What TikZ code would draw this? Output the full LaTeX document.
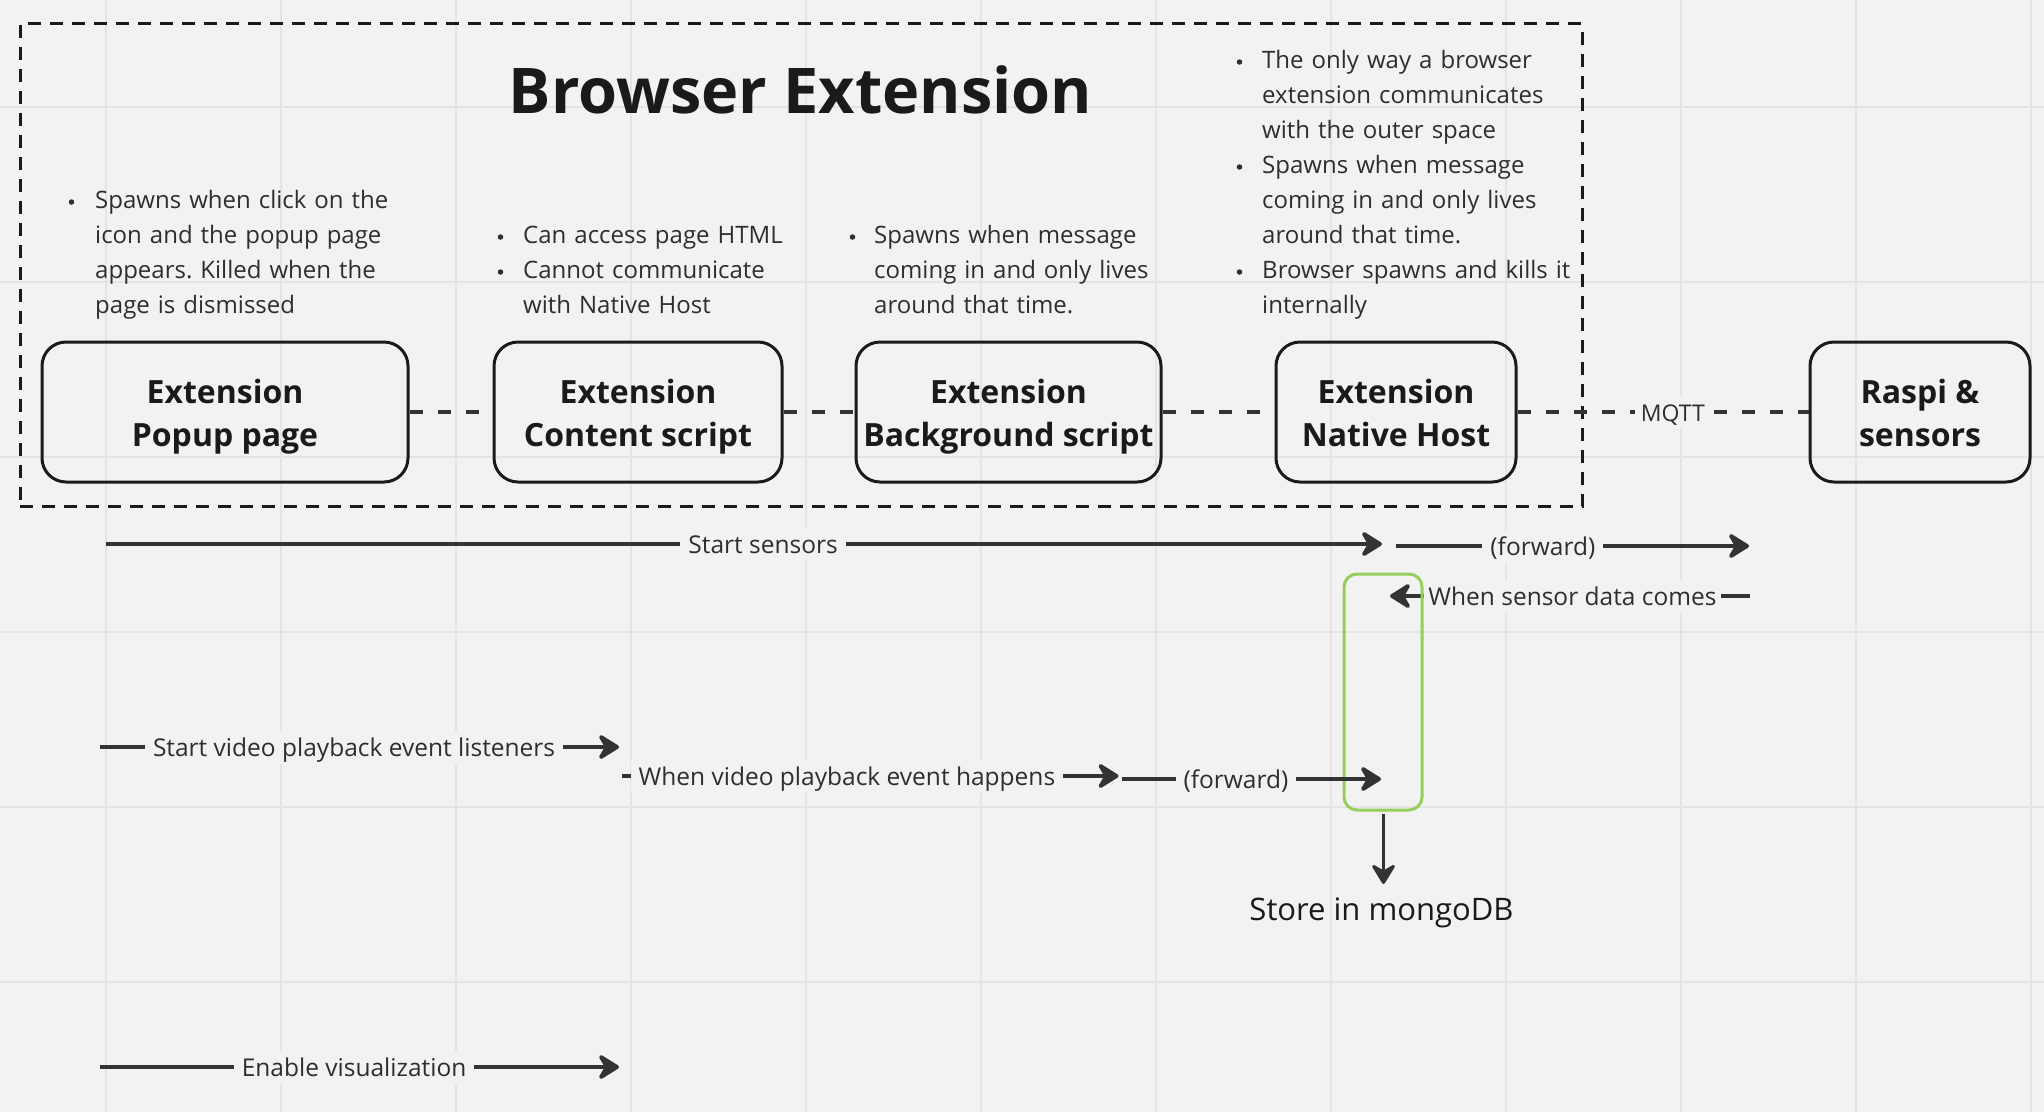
\documentclass[tikz,border=0pt]{standalone}
\usepackage{fontspec}
\setmainfont{Open Sans}
\usetikzlibrary{arrows.meta}
\frenchspacing
\definecolor{bg}{HTML}{F2F2F2}
\definecolor{gridc}{HTML}{E4E4E4}
\definecolor{ink}{HTML}{1A1A1A}
\definecolor{txt}{HTML}{2E2E2E}
\definecolor{lnc}{HTML}{333333}
\definecolor{grn}{HTML}{94CF5C}
\newcommand{\topline}{\rule{0pt}{38pt}}
\tikzset{
  comp/.style={draw=ink, line width=3pt, rounded corners=24pt, minimum height=140pt, align=center, inner sep=0pt,
    text=ink, font=\fontsize{32}{43}\selectfont\bfseries},
  dashlink/.style={draw=lnc, line width=3.4pt, dash pattern=on 13pt off 15pt},
  note/.style={anchor=base west, inner sep=0pt, text width=360pt, align=left, text=txt, font=\fontsize{24}{35}\selectfont},
  bul/.style={circle, fill=txt, inner sep=0pt, minimum size=5.5pt},
  flow/.style={draw=lnc, line width=3.8pt, -{Stealth[length=25pt,width=31pt,inset=9pt,round]}},
  lab/.style={fill=bg, inner xsep=8pt, inner ysep=2pt, text height=24pt, text depth=5pt, text=txt, font=\fontsize{24.5}{30}\selectfont},
}
\begin{document}
\begin{tikzpicture}[x=1pt,y=-1pt]
\useasboundingbox (0,0) rectangle (2044,1112);
\fill[bg] (0,0) rectangle (2044,1112);
% grid
\foreach \gx in {106,281,...,2044} \draw[gridc, line width=2pt] (\gx,0) -- (\gx,1112);
\foreach \gy in {107,282,...,1112} \draw[gridc, line width=2pt] (0,\gy) -- (2044,\gy);

% outer dashed frame
\node[draw=ink, line width=3pt, dash pattern=on 13pt off 9pt, minimum width=1562pt, minimum height=483pt, inner sep=0pt] (frame) at (801,265) {};

% title
\node[anchor=base, inner sep=0pt, text=ink, font=\fontsize{63}{72}\selectfont\bfseries] (title) at (800.5,113.5) {Browser Extension};

% components
\node[comp, minimum width=366pt] (popup) at (225,412) {\topline Extension\\\strut Popup page};
\node[comp, minimum width=288pt] (content) at (638,412) {\topline Extension\\\strut Content script};
\node[comp, minimum width=305pt] (bg) at (1008.5,412) {\topline Extension\\\strut Background script};
\node[comp, minimum width=240pt] (native) at (1396,412) {\topline Extension\\\strut Native Host};
\node[comp, minimum width=220pt] (raspi) at (1920,412) {\topline Raspi \&\\\strut sensors};

\draw[dashlink] (popup.east) -- (content.west);
\draw[dashlink] (content.east) -- (bg.west);
\draw[dashlink] (bg.east) -- (native.west);
\draw[dashlink] (native.east) -- node[pos=0.534, fill=bg, inner xsep=6pt, inner ysep=2pt, text height=22pt, text depth=4pt, text=txt, font=\fontsize{23}{28}\selectfont] (mqtt) {MQTT} (raspi.west);

% notes
\node[bul] (b1) at (71.5,202) {};
\node[note] (n1) at (95,208.5) {Spawns when click on the\\icon and the popup page\\appears. Killed when the\\page is dismissed};

\node[bul] (b2a) at (500.5,237) {};
\node[bul] (b2b) at (500.5,272) {};
\node[note] (n2) at (523,243.5) {Can access page HTML\\Cannot communicate\\with Native Host};

\node[bul] (b3) at (852.5,237) {};
\node[note] (n3) at (874,243.5) {Spawns when message\\coming in and only lives\\around that time.};

\node[bul] (b4a) at (1239.5,62) {};
\node[bul] (b4b) at (1239.5,167) {};
\node[bul] (b4c) at (1239.5,272) {};
\node[note] (n4) at (1262,68.5) {The only way a browser\\extension communicates\\with the outer space\\Spawns when message\\coming in and only lives\\around that time.\\Browser spawns and kills it\\internally};

% message flows
\coordinate (s1a) at (106,544);  \coordinate (s1b) at (1382,544);
\draw[flow] (s1a) -- node[lab, pos=0.515] (l1) {Start sensors} (s1b);

\coordinate (s2a) at (1396,546);  \coordinate (s2b) at (1749,546);
\draw[flow] (s2a) -- node[lab, pos=0.416] (l2) {(forward)} (s2b);

\coordinate (s3a) at (1750,596);  \coordinate (s3b) at (1390,596);
\draw[flow] (s3a) -- node[lab, pos=0.493, inner xsep=4pt] (l3) {When sensor data comes} (s3b);

% green activation box
\node[draw=grn, line width=3pt, rounded corners=13pt, minimum width=78pt, minimum height=236pt, inner sep=0pt] (act) at (1383,692) {};

\coordinate (s4a) at (99.5,747);  \coordinate (s4b) at (619,747);
\draw[flow] (s4a) -- node[lab, pos=0.49] (l4) {Start video playback event listeners} (s4b);

\coordinate (s5a) at (622,776);  \coordinate (s5b) at (1118.5,776);
\draw[flow] (s5a) -- node[lab, pos=0.453] (l5) {When video playback event happens} (s5b);

\coordinate (s6a) at (1122,779);  \coordinate (s6b) at (1381,779);
\draw[flow] (s6a) -- node[lab, pos=0.44] (l6) {(forward)} (s6b);

\node[inner sep=0pt, anchor=base, text=ink, font=\fontsize{31}{36}\selectfont] (mongo) at (1381.5,920) {Store in mongoDB};
\coordinate (s7a) at (1383.5,814);  \coordinate (s7b) at (1383.5,884);
\draw[draw=lnc, line width=3pt, -{Stealth[length=23pt,width=28pt,inset=8pt,round]}] (s7a) -- (s7b);

\coordinate (s8a) at (99.5,1067);  \coordinate (s8b) at (619,1067);
\draw[flow] (s8a) -- node[lab, pos=0.49] (l8) {Enable visualization} (s8b);
\end{tikzpicture}
\end{document}
